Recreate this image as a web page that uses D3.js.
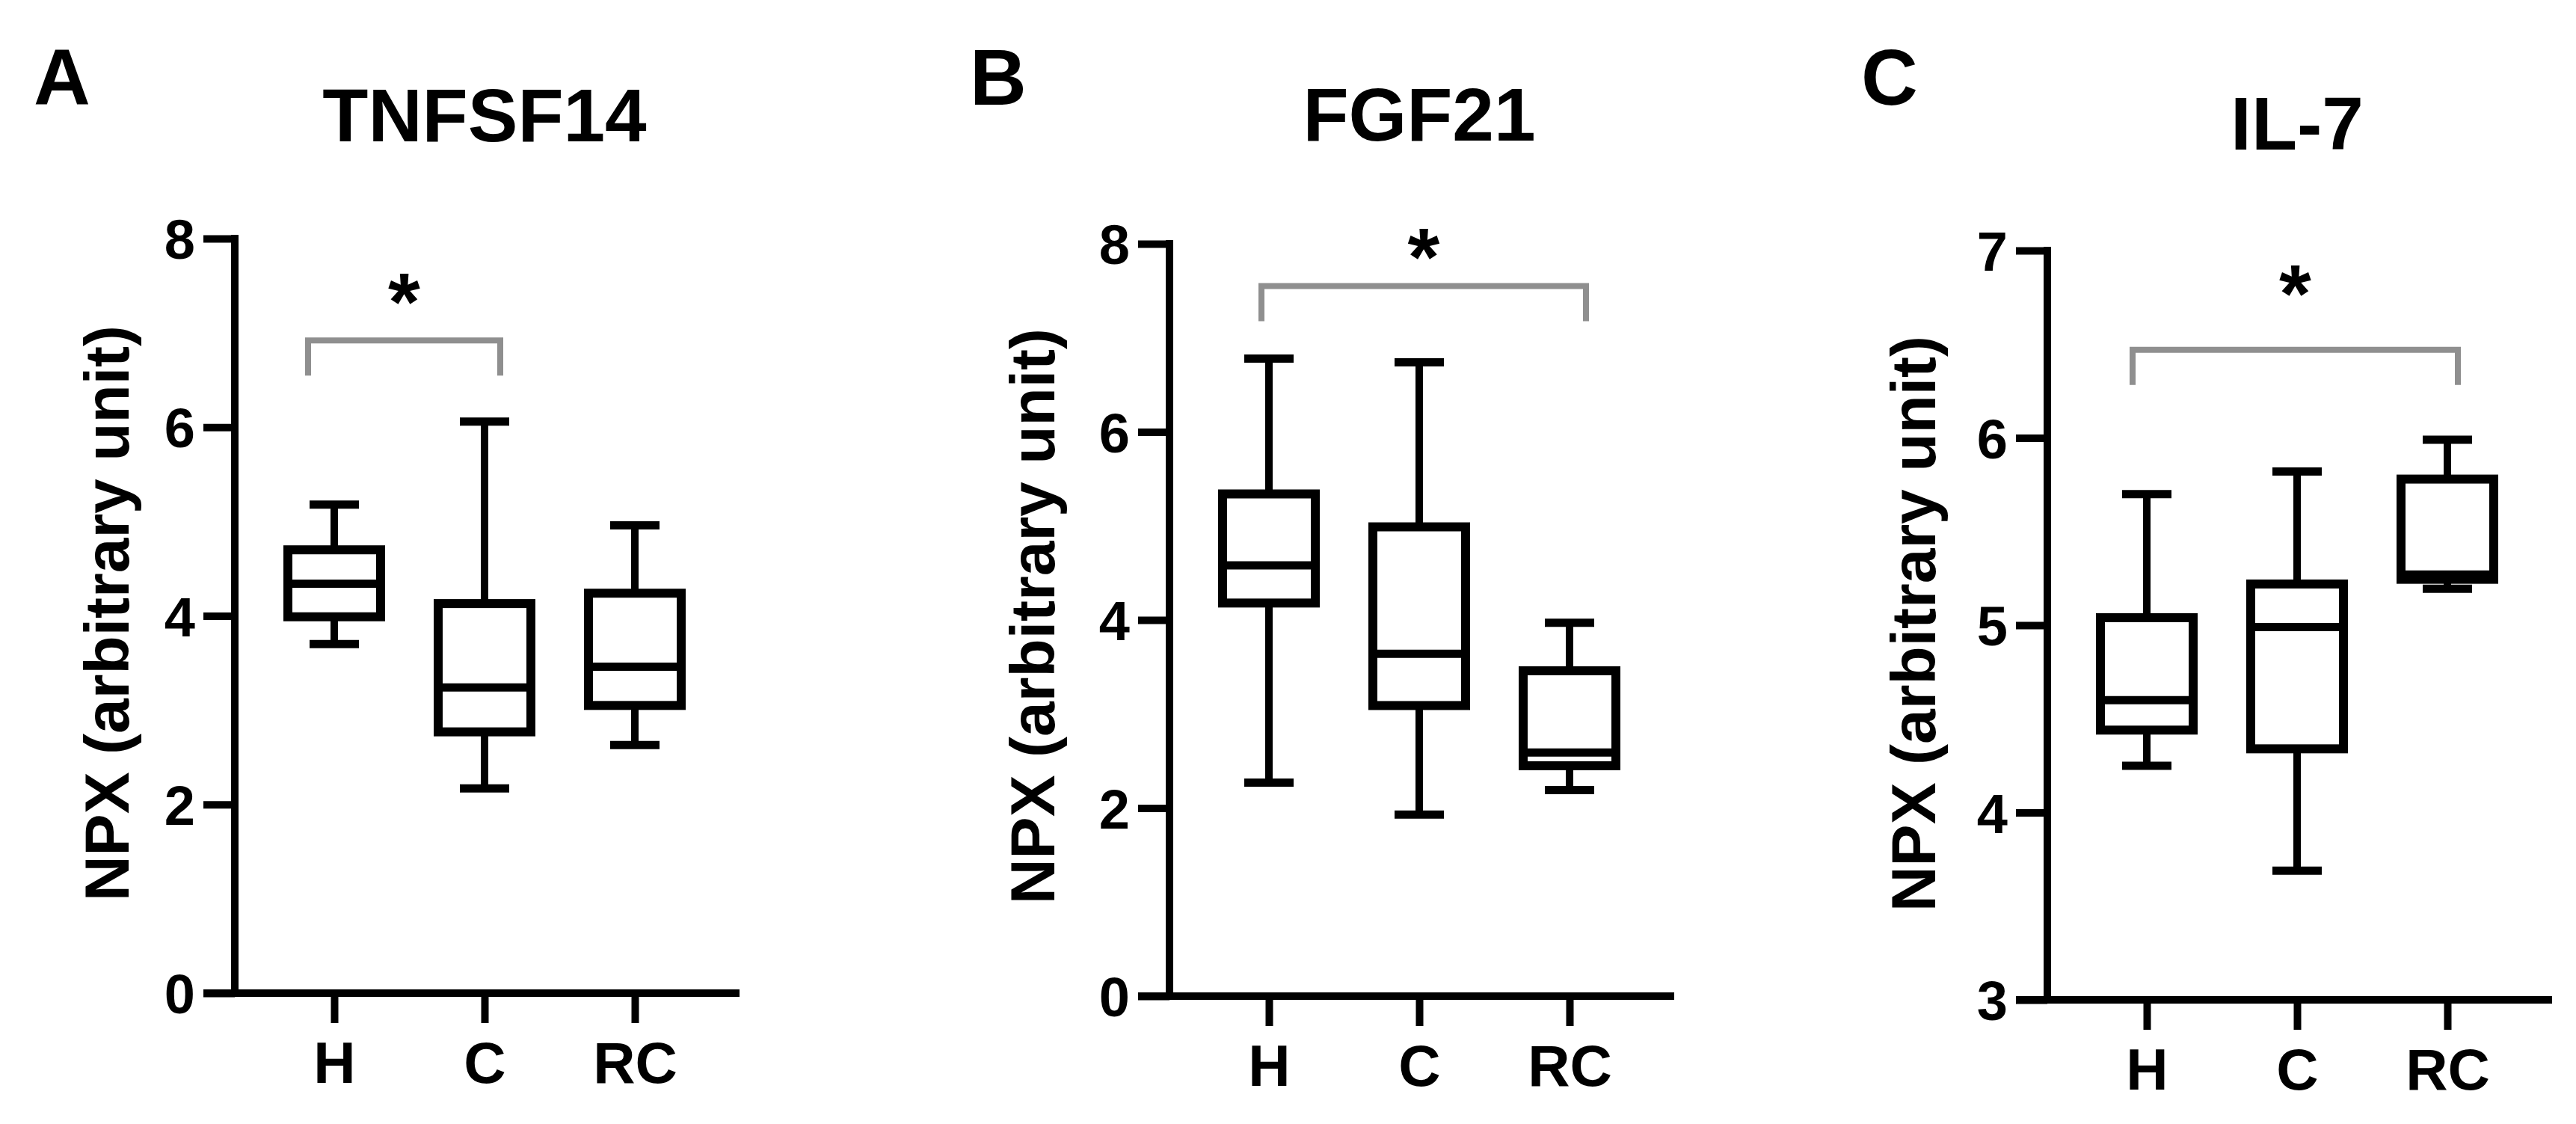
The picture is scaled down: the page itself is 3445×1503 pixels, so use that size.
<!DOCTYPE html>
<html><head><meta charset="utf-8">
<script src="https://cdn.jsdelivr.net/npm/d3@7"></script>
<style>html,body{margin:0;padding:0;background:#fff;} svg{display:block;}</style>
</head><body><svg id="chart" width="3445" height="1503"></svg>
<script>
// ---------------- DATA ----------------
const panelLetters = ["A", "B", "C"];
const titles = ["TNFSF14", "FGF21", "IL-7"];
const categories = ["H", "C", "RC"];
const yAxisTitle = "NPX (arbitrary unit)";
const statKeys = ["min", "q1", "median", "q3", "max"];
const yDomainA = [0, 8], yDomainB = [0, 8], yDomainC = [3, 7];
const yTicksA = [0, 2, 4, 6, 8];
const yTicksB = [0, 2, 4, 6, 8];
const yTicksC = [3, 4, 5, 6, 7];
// box statistics per category (H, C, RC): [min, q1, median, q3, max]
const tnfsf14 = [[3.70, 3.99, 4.34, 4.70, 5.18], [2.17, 2.77, 3.24, 4.13, 6.06], [2.63, 3.05, 3.46, 4.24, 4.96]];
const fgf21   = [[2.27, 4.18, 4.58, 5.34, 6.78], [1.93, 3.09, 3.64, 4.99, 6.74], [2.19, 2.45, 2.59, 3.46, 3.97]];
const il7     = [[4.25, 4.44, 4.60, 5.04, 5.70], [3.69, 4.34, 4.99, 5.22, 5.82], [5.195, 5.245, 5.27, 5.78, 5.99]];
// significance annotations
const sigFrom = ["H", "H", "H"];
const sigTo = ["C", "RC", "RC"];
const sigLevel = [6.92, 7.55, 6.47];
const sigText = ["*", "*", "*"];

// ---------------- LAYOUT ----------------
const W = 3445, H = 1503;
const FONT = "'Liberation Sans', Arial, Helvetica, sans-serif";
const axisX = [314, 1564, 2738];
const yTop = [319, 326, 335];
const yBottom = [1328, 1332, 1337];
const letterX = [45, 1297, 2489];
const titleBase = [189, 188, 200];
const yLabelOff = [142, 154, 150];
const yLabelCY = [820, 824, 834];
const brL = [-35, -10, -19], brR = [21, 22, 14];
const starOff = [69, 57, 93];

const panelData = [tnfsf14, fgf21, il7];
const panelDomains = [yDomainA, yDomainB, yDomainC];
const panelTicks = [yTicksA, yTicksB, yTicksC];

const svg = d3.select("#chart");
svg.append("rect").attr("width", W).attr("height", H).attr("fill", "#fff");

panelLetters.forEach((letter, i) => {
  const g = svg.append("g");
  const x0 = axisX[i];
  const dom = panelDomains[i];
  const x = d3.scalePoint().domain(categories).range([x0 + 133, x0 + 535]);
  const y = d3.scaleLinear().domain(dom).range([yBottom[i], yTop[i]]);

  // panel letter
  g.append("text").attr("x", letterX[i]).attr("y", 140).text(letter)
    .attr("font-family", FONT).attr("font-weight", "bold").attr("font-size", 105).attr("fill", "#000");
  // title
  g.append("text").attr("x", x("C")).attr("y", titleBase[i]).attr("text-anchor", "middle").text(titles[i])
    .attr("font-family", FONT).attr("font-weight", "bold").attr("font-size", 100).attr("fill", "#000");
  // y axis title
  g.append("text").attr("transform", `translate(${x0 - yLabelOff[i]},${yLabelCY[i]}) rotate(-90)`)
    .attr("text-anchor", "middle").text(yAxisTitle)
    .attr("font-family", FONT).attr("font-weight", "bold").attr("font-size", 84).attr("fill", "#000");

  // y axis
  const ya = g.append("g").attr("transform", `translate(${x0},0)`)
    .call(d3.axisLeft(y).tickValues(panelTicks[i]).tickSize(42).tickPadding(11).tickFormat(d3.format("d")));
  ya.attr("font-family", FONT).attr("font-size", 74).attr("font-weight", "bold");
  ya.select(".domain").remove();
  ya.selectAll(".tick line").attr("stroke", "#000").attr("stroke-width", 10);
  ya.selectAll(".tick text").attr("fill", "#000").attr("dy", "0.36em");

  // x axis
  const xa = g.append("g").attr("transform", `translate(0,${y(dom[0])})`)
    .call(d3.axisBottom(x).tickSize(40).tickPadding(25));
  xa.attr("font-family", FONT).attr("font-size", 78).attr("font-weight", "bold");
  xa.select(".domain").remove();
  xa.selectAll(".tick line").attr("stroke", "#000").attr("stroke-width", 10);
  xa.selectAll(".tick text").attr("fill", "#000");

  // axis lines
  g.append("line").attr("x1", x0).attr("x2", x0).attr("y1", y(dom[1])).attr("y2", y(dom[0]))
    .attr("stroke", "#000").attr("stroke-width", 10).attr("stroke-linecap", "square");
  g.append("line").attr("x1", x0 - 42).attr("x2", x0 + 675).attr("y1", y(dom[0])).attr("y2", y(dom[0]))
    .attr("stroke", "#000").attr("stroke-width", 10);

  // boxes
  const boxW = 124, capW = 66;
  const rows = categories.map((c, j) => {
    const o = { cat: c };
    statKeys.forEach((k, m) => o[k] = panelData[i][j][m]);
    return o;
  });
  const bg = g.selectAll(".box").data(rows).enter().append("g").attr("class", "box");
  bg.append("line").attr("x1", d => x(d.cat)).attr("x2", d => x(d.cat))
    .attr("y1", d => y(d.q3)).attr("y2", d => y(d.max)).attr("stroke", "#000").attr("stroke-width", 10);
  bg.append("line").attr("x1", d => x(d.cat)).attr("x2", d => x(d.cat))
    .attr("y1", d => y(d.q1)).attr("y2", d => y(d.min)).attr("stroke", "#000").attr("stroke-width", 10);
  bg.append("line").attr("x1", d => x(d.cat) - capW / 2).attr("x2", d => x(d.cat) + capW / 2)
    .attr("y1", d => y(d.max)).attr("y2", d => y(d.max)).attr("stroke", "#000").attr("stroke-width", 11);
  bg.append("line").attr("x1", d => x(d.cat) - capW / 2).attr("x2", d => x(d.cat) + capW / 2)
    .attr("y1", d => y(d.min)).attr("y2", d => y(d.min)).attr("stroke", "#000").attr("stroke-width", 11);
  bg.append("rect").attr("x", d => x(d.cat) - boxW / 2).attr("width", boxW)
    .attr("y", d => y(d.q3)).attr("height", d => y(d.q1) - y(d.q3))
    .attr("fill", "#fff").attr("stroke", "#000").attr("stroke-width", 12);
  bg.append("line").attr("x1", d => x(d.cat) - boxW / 2).attr("x2", d => x(d.cat) + boxW / 2)
    .attr("y1", d => y(d.median)).attr("y2", d => y(d.median)).attr("stroke", "#000").attr("stroke-width", 11);

  // significance bracket
  const xl = x(sigFrom[i]) + brL[i], xr = x(sigTo[i]) + brR[i], yb = y(sigLevel[i]);
  g.append("path").attr("d", `M${xl},${yb + 47}V${yb}H${xr}V${yb + 47}`)
    .attr("fill", "none").attr("stroke", "#8f8f8f").attr("stroke-width", 8);
  g.append("text").attr("x", (xl + xr) / 2).attr("y", yb - starOff[i] + 55).attr("text-anchor", "middle")
    .text(sigText[i]).attr("font-family", FONT).attr("font-weight", "bold").attr("font-size", 110).attr("fill", "#000");
});
</script></body></html>
